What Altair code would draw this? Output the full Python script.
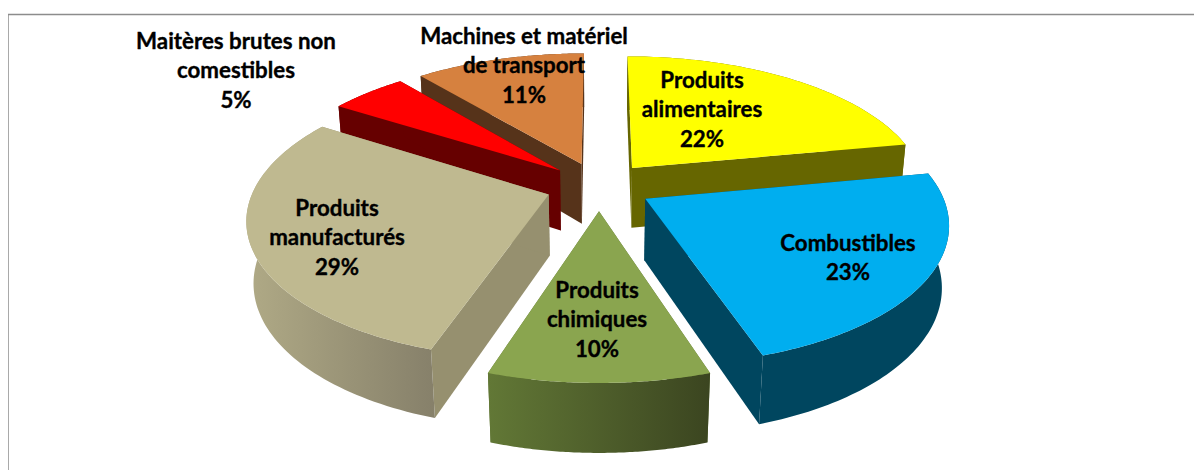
import math
import altair as alt

# ---- chart values ----
categories = ["Produits alimentaires", "Combustibles", "Produits chimiques",
              "Produits manufacturés", "Maitères brutes non comestibles",
              "Machines et matériel de transport"]
shares = [22, 23, 10, 29, 5, 11]
label_lines = [["Produits", "alimentaires"], ["Combustibles"], ["Produits", "chimiques"],
               ["Produits", "manufacturés"], ["Maitères brutes non", "comestibles"],
               ["Machines et matériel", "de transport"]]

# ---- styles, one entry per category ----
top_colors = ["#FFFF00", "#00AEEF", "#8AA54F", "#BFB990", "#FF0000", "#D6813F"]
cut_colors = ["#666600", "#00465F", "#5F7434", "#96906F", "#660000", "#56331A"]
wall_stops = [("#666600", "#666600"), ("#00465F", "#00465F"), ("#627836", "#3B4520"),
              ("#B0AA86", "#86806A"), ("#660000", "#660000"), ("#56331A", "#56331A")]

# ---- layout of the exploded perspective pie ----
W, H = 1186, 462
ORIGIN = 8
CX, CY = 599 - ORIGIN, 186.3 - ORIGIN
RX, RY, PERSP, EXPLODE, DEPTH, SHRINK = 294, 135, 0.161, 0.18, 62, 0.02
DRAW_ORDER = [5, 4, 0, 3, 1, 2]
LABEL_POS = [(702, 80.5), (848, 243.5), (597, 290.5), (337, 208.5), (236, 41.5), (524, 36.5)]
LINE_GAP = 29.5
FONT_SIZE = 22.3


def project(u, v, bottom=False):
    p = 1 / (1 - PERSP * v)
    if bottom:
        pb = p / (1 + SHRINK * p)
        return [CX + RX * u * pb, CY + (RY * v + DEPTH) * pb]
    return [CX + RX * u * p, CY + RY * v * p]


def ring(points):
    return points + [points[0]]


def polygon_chart(points, fill):
    feature = {"type": "Feature", "properties": {},
               "geometry": {"type": "Polygon", "coordinates": [ring(points)]}}
    return alt.Chart(alt.Data(values=[feature])).mark_geoshape(
        fill=fill, stroke="transparent", strokeWidth=0
    ).project(type="identity", scale=1, translate=[0, 0])


def gradient(pair):
    return alt.LinearGradient(
        gradient="linear", x1=0, x2=1, y1=0, y2=0,
        stops=[alt.GradientStop(color=pair[0], offset=0),
               alt.GradientStop(color=pair[1], offset=1)],
    )


total = sum(shares)
starts = [sum(shares[:i]) / total * 2 * math.pi for i in range(len(shares))]
layers = []
for i in DRAW_ORDER:
    a0 = starts[i]
    a1 = a0 + shares[i] / total * 2 * math.pi
    mid = (a0 + a1) / 2
    ox, oy = EXPLODE * math.sin(mid), -EXPLODE * math.cos(mid)
    n = 80
    rim = [(ox + math.sin(a0 + (a1 - a0) * k / n), oy - math.cos(a0 + (a1 - a0) * k / n))
           for k in range(n + 1)]
    apex = (ox, oy)
    top_rim = [project(u, v) for u, v in rim]
    bot_rim = [project(u, v, True) for u, v in rim]
    top_apex, bot_apex = project(*apex), project(*apex, True)
    # cut faces, outer wall, then the top face
    layers.append(polygon_chart([top_apex, top_rim[0], bot_rim[0], bot_apex], cut_colors[i]))
    layers.append(polygon_chart([top_apex, top_rim[-1], bot_rim[-1], bot_apex], cut_colors[i]))
    layers.append(polygon_chart(top_rim + bot_rim[::-1], gradient(wall_stops[i])))
    layers.append(polygon_chart([top_apex] + top_rim, top_colors[i]))

rows = []
for i, lines in enumerate(label_lines):
    x, y = LABEL_POS[i]
    for j, line in enumerate(lines + [f"{shares[i]}%"]):
        rows.append({"t": line, "px": x - ORIGIN, "py": y - ORIGIN + j * LINE_GAP})

labels = alt.Chart(alt.Data(values=rows)).mark_text(
    font="Lato", fontWeight="bold", fontSize=FONT_SIZE, color="#000000",
    stroke="#000000", strokeWidth=0.35, align="center", baseline="middle",
).encode(x=alt.X("px:Q", scale=None), y=alt.Y("py:Q", scale=None), text="t:N")

frame_left = alt.Chart(alt.Data(values=[{"a": 0}])).mark_rule(color="#8C8C8C", strokeWidth=1.5).encode(
    x=alt.value(0), y=alt.value(6.5), y2=alt.value(H))
frame_top = alt.Chart(alt.Data(values=[{"a": 0}])).mark_rule(color="#8C8C8C", strokeWidth=1.5).encode(
    y=alt.value(6.5), x=alt.value(0), x2=alt.value(W))

chart = alt.layer(frame_left, frame_top, *layers, labels).properties(
    width=W, height=H, padding=0, autosize=alt.AutoSizeParams(type="none"), background="white"
).configure_view(stroke=None)

chart.save("out.html", embed_options={"renderer": "svg", "actions": False})
